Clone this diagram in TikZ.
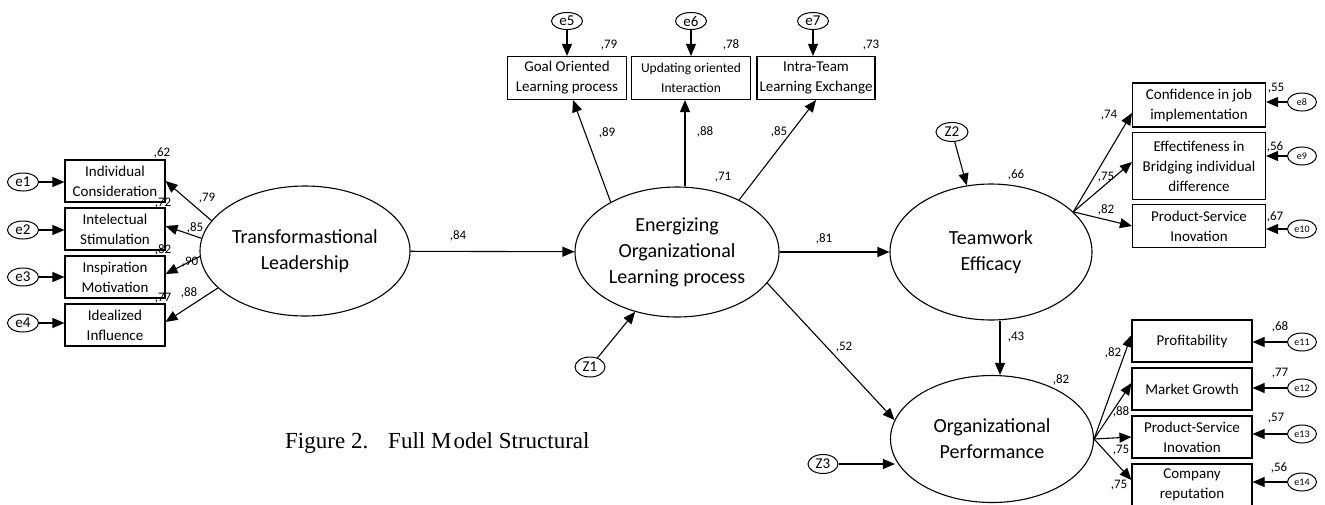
\documentclass[tikz,border=0pt]{standalone}
\usepackage{fontspec}
\setmainfont{Carlito}
\newfontfamily\capfont{Liberation Serif}
\usetikzlibrary{shapes.geometric,arrows.meta,calc}
\newcommand{\fsz}[2]{\fontsize{#1}{#2}\selectfont}
\begin{document}
\begin{tikzpicture}[x=1pt,y=-1pt,
  box/.style={draw, line width=1.1pt, rectangle, align=center, inner sep=0pt, font=\fsz{15}{20}},
  lat/.style={draw, ellipse, line width=1.1pt, align=center, inner sep=0pt, font=\fsz{20}{26}},
  err/.style={draw, ellipse, line width=1pt, inner sep=0pt, minimum width=31pt, minimum height=18pt, font=\fsz{15}{15}},
  serr/.style={err, minimum width=29pt, minimum height=18pt, font=\fsz{10}{10}},
  arr/.style={line width=1.1pt, -{Triangle[length=12pt,width=10pt]}},
  lab/.style={inner sep=0pt, font=\fsz{13}{13}},
]
\useasboundingbox (0,0) rectangle (1325,504);
% latent variables
\node[lat, minimum width=210pt, minimum height=130pt] (tl) at (305,251) {Transformastional\\Leadership};
\node[lat, minimum width=204pt, minimum height=130pt] (en) at (677,252) {Energizing\\Organizational\\Learning process};
\node[lat, minimum width=202pt, minimum height=136pt] (tw) at (991,252) {Teamwork\\Efficacy};
\node[lat, minimum width=203pt, minimum height=127pt] (op) at (992,439) {Organizational\\Performance};
% left indicators
\node[box, minimum width=100pt, minimum height=42pt] (b1) at (115,181) {Individual\\Consideration};
\node[box, minimum width=100pt, minimum height=42pt] (b2) at (115,229) {Intelectual\\Stimulation};
\node[box, minimum width=100pt, minimum height=42pt] (b3) at (115,277) {Inspiration\\Motivation};
\node[box, minimum width=100pt, minimum height=42pt] (b4) at (115,325) {Idealized\\Influence};
\node[err] (e1) at (23,182) {e1};
\node[err] (e2) at (23,230) {e2};
\node[err] (e3) at (23,277) {e3};
\node[err] (e4) at (23,323) {e4};
% top indicators
\node[box, minimum width=119pt, minimum height=43pt] (go) at (567,78) {Goal Oriented\\Learning process};
\node[box, minimum width=119pt, minimum height=43pt, font=\fsz{13.5}{20}] (uo) at (691,78) {Updating oriented\\Interaction};
\node[box, minimum width=118pt, minimum height=43pt] (it) at (816,78) {Intra-Team\\Learning Exchange};
\node[err, minimum height=17pt] (e5) at (567,21) {e5};
\node[err, minimum height=17pt] (e6) at (691,21) {e6};
\node[err, minimum height=17pt] (e7) at (813,21) {e7};
% right indicators (teamwork)
\node[box, minimum width=133pt, minimum height=44pt] (conf) at (1199,105) {Confidence in job\\implementation};
\node[box, minimum width=133pt, minimum height=67pt] (eff) at (1199,166) {Effectifeness in\\Bridging individual\\difference};
\node[box, minimum width=133pt, minimum height=43pt] (ps1) at (1199,226) {Product-Service\\Inovation};
\node[serr] (e8) at (1302,102) {e8};
\node[serr] (e9) at (1302,156) {e9};
\node[serr] (e10) at (1302,229) {e10};
% right indicators (performance)
\node[box, minimum width=120pt, minimum height=42pt] (prof) at (1192,341) {Profitability};
\node[box, minimum width=120pt, minimum height=42pt] (mg) at (1192,389) {Market Growth};
\node[box, minimum width=120pt, minimum height=42pt] (ps2) at (1192,437) {Product-Service\\Inovation};
\node[box, minimum width=120pt, minimum height=42pt] (comp) at (1192,485) {Company\\reputation};
\node[serr] (e11) at (1302,342) {e11};
\node[serr] (e12) at (1302,388) {e12};
\node[serr] (e13) at (1302,434) {e13};
\node[serr] (e14) at (1302,482) {e14};
% disturbances
\node[err, minimum width=30pt, minimum height=20pt] (z1) at (590,367) {Z1};
\node[err, minimum width=32pt, minimum height=19pt] (z2) at (952,132) {Z2};
\node[err, minimum width=30pt, minimum height=19pt] (z3) at (823,464) {Z3};
% arrows left
\foreach \i in {1,2,3,4}{\draw[arr] (e\i) -- (b\i.west |- e\i);}
\draw[arr] (tl.162) -- (b1.east);
\draw[arr] (tl.173) -- ($(b2.east)+(0,-3)$);
\draw[arr] (tl.183) -- ($(b3.east)+(0,-3)$);
\draw[arr] (tl.203) -- ($(b4.east)+(0,-3)$);
\draw[arr] (tl) -- (en);
% arrows top
\draw[arr] (e5) -- (go.north);
\draw[arr] (e6) -- (uo.north);
\draw[arr] (e7) -- (e7 |- it.north);
\draw[arr] (en.143) -- ($(go.south)+(6,0)$);
\draw[arr] ($(en.north)+(8,0)$) -- ($(uo.south)+(-6,0)$);
\draw[arr] (en.40) -- (it.south);
\draw[arr] (z1) -- (en.235);
% middle
\draw[arr] (en) -- (tw);
\draw[arr] (en.341) -- (op.169);
\draw[arr] (z2) -- (tw.110);
\coordinate (x43) at (1000,0);
\draw[arr] (tw.south -| x43) -- (op.north -| x43);
\draw[arr] (z3) -- ($(z3 -| op.west)+(5,0)$);
% teamwork indicators
\draw[arr] (tw.26) -- ($(conf.west)+(0,8)$);
\draw[arr] (tw.26) -- ($(eff.west)+(0,-4)$);
\draw[arr] (tw.26) -- (ps1.west);
\draw[arr] (e8) -- (e8 -| conf.east);
\draw[arr] (e9) -- (e9 -| eff.east);
\draw[arr] (e10) -- (e10 -| ps1.east);
% performance indicators
\draw[arr] (op.east) -- ($(prof.west)+(0,-6)$);
\draw[arr] (op.east) -- ($(mg.west)+(0,-6)$);
\draw[arr] (op.east) -- (ps2.west);
\draw[arr] (op.east) -- ($(comp.west)+(0,-5)$);
\draw[arr] (e11) -- (e11 -| prof.east);
\draw[arr] (e12) -- (e12 -| mg.east);
\draw[arr] (e13) -- (e13 -| ps2.east);
\draw[arr] (e14) -- (e14 -| comp.east);
% coefficient labels
\foreach \x/\y/\t [count=\n] in {207/198/79, 195/228/85, 190/262/90, 189/293/88,
  162/153/62, 163/203/72, 163/250/82, 163/298/77, 458/236/84,
  609/45/79, 731/45/78, 871/45/73, 607/133/89, 705/132/88, 779/132/85, 723/177/71,
  824/239/81, 844/347/52, 1016/175/66, 1109/115/74, 1106/177/75, 1106/210/82,
  1276/88/55, 1275/147/56, 1275/217/67, 1016/337/43, 1061/380/82,
  1113/353/82, 1121/412/88, 1121/450/75, 1119/485/75,
  1280/327/68, 1280/373/77, 1276/418/57, 1279/468/56}
  {\node[lab] (lab\n) at (\x,\y) {,\t};}
% caption
\node[anchor=base west, inner sep=0pt, font=\capfont\fsz{23}{23}] (cap) at (285,448) {Figure 2.\hspace{20pt}Full M\kern2pt odel Structural};
\end{tikzpicture}
\end{document}
